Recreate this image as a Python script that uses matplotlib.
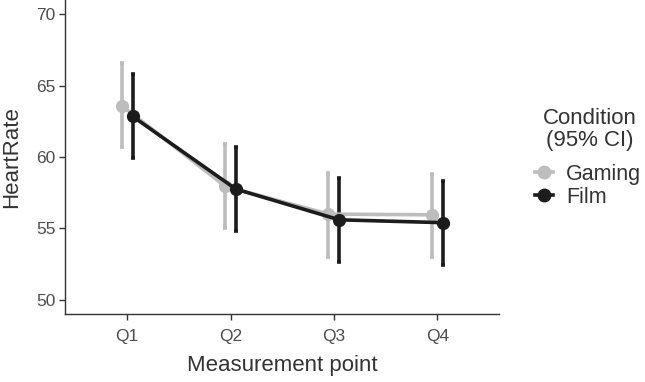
import numpy as np
import matplotlib
matplotlib.use("Agg")
import matplotlib.pyplot as plt
from matplotlib.lines import Line2D

plt.rcParams['font.family'] = ['Liberation Sans', 'DejaVu Sans']

# data
points = ["Q1", "Q2", "Q3", "Q4"]
gaming_mean = [63.6, 57.95, 56.0, 55.95]
gaming_lo = [60.7, 55.0, 53.0, 53.0]
gaming_hi = [66.6, 60.9, 58.9, 58.8]
film_mean = [62.85, 57.75, 55.6, 55.4]
film_lo = [59.95, 54.8, 52.65, 52.4]
film_hi = [65.85, 60.7, 58.5, 58.3]

gray = "#bdbdbd"
black = "#1c1c1c"
dodge = 0.052

fig = plt.figure(figsize=(6.45, 3.82), dpi=100)
ax = fig.add_axes([0.101, 0.178, 0.673, 0.822])

x = np.arange(1, len(points) + 1)
series = [
    ("Gaming", gaming_mean, gaming_lo, gaming_hi, gray, -dodge),
    ("Film", film_mean, film_lo, film_hi, black, dodge),
]
for name, m, lo, hi, col, off in series:
    m = np.array(m); lo = np.array(lo); hi = np.array(hi)
    xs = x + off
    ax.errorbar(xs, m, yerr=[m - lo, hi - m], fmt="none", ecolor=col,
                elinewidth=2.6, capsize=1.6, capthick=2.6, zorder=2)
    ax.plot(xs, m, color=col, lw=2.6, marker="o", markersize=8.5,
            solid_capstyle="butt", zorder=3)

ax.set_xlim(0.4, 4.6)
ax.set_ylim(49.0, 71.0)
ax.set_xticks(x)
ax.set_xticklabels(points)
ax.set_yticks([50, 55, 60, 65, 70])

for side in ["top", "right"]:
    ax.spines[side].set_visible(False)
for side in ["left", "bottom"]:
    ax.spines[side].set_color("#333333")
    ax.spines[side].set_linewidth(1.0)
ax.tick_params(colors="#333333", labelcolor="#4d4d4d", labelsize=12.5,
               length=4, width=1.0, pad=3)
ax.tick_params(axis="x", pad=7)

ax.set_xlabel("Measurement point", fontsize=16, color="#333333", labelpad=8)
ax.set_ylabel("HeartRate", fontsize=16, color="#333333", labelpad=10)

# legend: title as separate text, entries below
fig.text(0.9145, 0.661, "Condition\n(95% CI)", ha="center", va="center",
         fontsize=16, color="#333333", linespacing=1.12)
handles = [Line2D([], [], color=gray, lw=2.6, marker="o", markersize=9),
           Line2D([], [], color=black, lw=2.6, marker="o", markersize=9)]
leg = fig.legend(handles, ["Gaming", "Film"],
                 loc="center left", bbox_to_anchor=(0.829, 0.514),
                 frameon=False, fontsize=15.5,
                 handlelength=0.85, handletextpad=0.6, labelspacing=0.1,
                 borderaxespad=0, borderpad=0)
for t in leg.get_texts():
    t.set_color("#333333")

fig.savefig("out.png", dpi=100)
